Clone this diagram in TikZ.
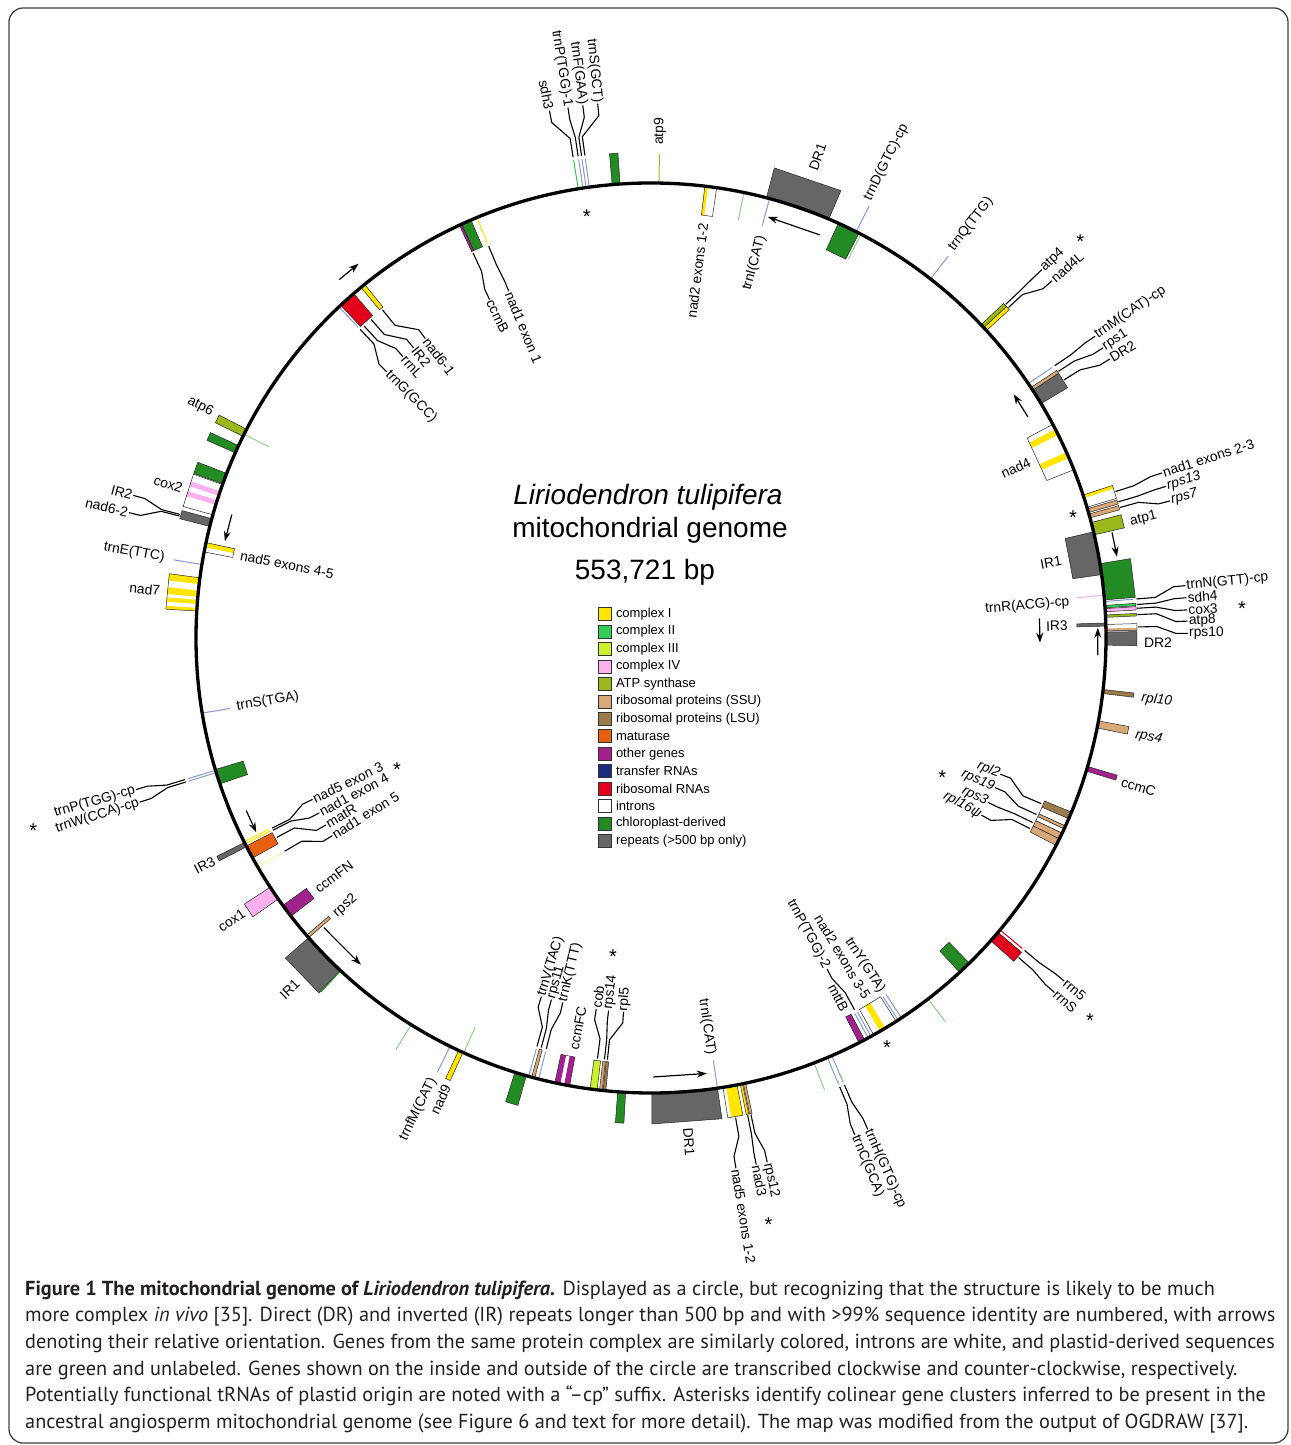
\documentclass[tikz,border=0pt]{standalone}
\usepackage{fontspec}
\setmainfont{Liberation Sans}
\newfontfamily\capfont{PT Sans}
\usetikzlibrary{arrows.meta,positioning}

\definecolor{cI}{HTML}{FFE500}
\definecolor{cII}{HTML}{33CC55}
\definecolor{cIII}{HTML}{CBF02D}
\definecolor{cIV}{HTML}{FBB0F0}
\definecolor{cATP}{HTML}{9AB81A}
\definecolor{cSSU}{HTML}{D9A877}
\definecolor{cLSU}{HTML}{9B7A4C}
\definecolor{cMat}{HTML}{E6600F}
\definecolor{cOth}{HTML}{A2218E}
\definecolor{cTRNA}{HTML}{1C2C7E}
\definecolor{cRRNA}{HTML}{E2001A}
\definecolor{cCP}{HTML}{238B23}
\definecolor{cRep}{HTML}{666666}
\definecolor{trnaln}{HTML}{8A98D0}
\definecolor{cpln}{HTML}{90CC90}
\definecolor{capgray}{HTML}{231F20}

\tikzset{
  gbox/.style={draw=black!85, line width=0.5pt},
  tline/.style={line width=1pt},
  leader/.style={line width=1.1pt, line join=round},
  reparr/.style={line width=1.2pt, -{Stealth[length=10pt, width=7pt]}},
  lbl/.style={font=\fontsize{13.8}{15}\selectfont, inner sep=1pt},
  astk/.style={font=\fontsize{20}{20}\selectfont, inner sep=0pt, yshift=-4pt},
  olab/.code={\pgfmathtruncatemacro\lside{cos(#1)>=0}%
    \ifnum\lside=1 \tikzset{anchor=west, rotate=#1}\else\tikzset{anchor=east, rotate=#1-180}\fi},
  ilab/.code={\pgfmathtruncatemacro\lside{cos(#1)>=0}%
    \ifnum\lside=1 \tikzset{anchor=east, rotate=#1}\else\tikzset{anchor=west, rotate=#1+180}\fi},
  legbox/.style={draw=black!80, line width=0.6pt, minimum size=13pt, inner sep=0pt},
  legtxt/.style={font=\fontsize{13}{15}\selectfont, inner sep=1pt},
  captxt/.style={font=\capfont\fontsize{20.3}{24}\selectfont, text=capgray, inner sep=0pt, anchor=base west},
}

% ring sector: from angle, to angle, inner r, outer r, fill
\newcommand\gbx[5]{\filldraw[gbox, fill=#5] (#1:#3) -- (#1:#4) -- (#2:#4) -- (#2:#3) -- cycle;}
\newcommand\band[5]{\fill[#5] (#1:#3) -- (#1:#4) -- (#2:#4) -- (#2:#3) -- cycle;}
\newcommand\gedge[4]{\draw[gbox] (#1:#3) -- (#1:#4) -- (#2:#4) -- (#2:#3) -- cycle;}

\begin{document}
\begin{tikzpicture}[x=1pt, y=1pt]
  \useasboundingbox (-651,638) rectangle (639,-807);
  \draw[black!75, line width=1.3pt, rounded corners=14pt] (-642,630) rectangle (637,-805);

  % genes outside the circle
  \foreach \a/\b/\c in {93.9/94.9/cCP, 67.0/75.3/cRep, 43.0/43.5/cATP, 42.5/43.0/cI,
      31.0/33.0/cRep, 33.0/33.4/cSSU, 16.0/16.5/cSSU, 15.3/15.8/cSSU, 13.1/14.7/cATP,
      4.8/9.4/cCP, 3.8/4.1/cII, 3.3/3.7/cIV, 2.6/2.9/cATP, -0.9/0.75/cRep,
      -7.0/-6.5/cLSU, -11.4/-10.5/cSSU, -17.0/-16.4/cOth, -41.7/-40.3/cRRNA,
      -89.9/-81.6/cRep, -78.7/-78.4/cI, -78.3/-78.0/cSSU, -94.2/-93.2/cCP,
      -107.4/-105.9/cCP, -115.0/-114.4/cI, -138.8/-133.1/cRep, -146.8/-145.0/cIV,
      -153.3/-152.7/cRep, 164.8/165.8/cRep, 158.8/160.2/cCP, 155.0/156.0/cCP,
      152.7/153.7/cATP}
    {\gbx{\a}{\b}{455}{486}{\c}}

  % genes inside the circle
  \foreach \a/\b/\c in {62.8/65.7/cCP, 8.0/13.5/cRep, 1.5/1.9/cRep,
      -23.4/-22.5/cLSU, -24.4/-23.4/white, -24.8/-24.4/cSSU, -25.4/-24.8/white,
      -26.2/-25.4/cSSU, -27.1/-26.2/cSSU, -47.3/-45.6/cCP, -62.8/-62.0/cOth,
      -97.7/-96.8/cIII, -96.5/-96.15/cSSU, -96.05/-95.7/cLSU, -105.2/-104.8/cSSU,
      -139.2/-138.8/cSSU, -144.0/-142.3/cOth, -152.8/-151.1/cMat, -163.2/-161.3/cCP,
      129.0/129.6/cI, 130.8/133.0/cRRNA, 113.3/114.6/cCP, 114.6/114.9/cOth}
    {\gbx{\a}{\b}{426}{455}{\c}}

  % genes with introns
  \foreach \a/\b/\u/\v in {16.7/18.3/455/486, 0.9/1.7/455/486, -80.9/-79.1/455/486,
      172.4/176.6/455/486, 160.3/164.3/455/486, 81.7/83.2/426/455, 21.7/28.0/426/455,
      -60.7/-57.4/426/455, -102.2/-100.3/426/455, 167.9/169.1/426/455}
    {\band{\a}{\b}{\u}{\v}{white}}
  \foreach \a/\b/\u/\v/\c in {17.9/18.3/455/486/cI, 0.9/1.2/455/486/cSSU,
      -80.5/-79.1/455/486/cI, 172.4/173.2/455/486/cI, 174.0/174.8/455/486/cI,
      175.2/175.7/455/486/cI, 176.2/176.6/455/486/cI, 161.2/161.8/455/486/cIV,
      162.4/163.0/455/486/cIV, 82.8/83.2/426/455/cI, 26.5/27.3/426/455/cI,
      23.3/24.1/426/455/cI, -59.8/-59.0/426/455/cI, -102.2/-101.5/426/455/cOth,
      -101.0/-100.3/426/455/cOth, 167.9/168.5/426/455/cI}
    {\band{\a}{\b}{\u}{\v}{\c}}
  \foreach \a/\b/\u/\v in {16.7/18.3/455/486, 0.9/1.7/455/486, -80.9/-79.1/455/486,
      172.4/176.6/455/486, 160.3/164.3/455/486, 81.7/83.2/426/455, 21.7/28.0/426/455,
      -60.7/-57.4/426/455, -102.2/-100.3/426/455, 167.9/169.1/426/455}
    {\gedge{\a}{\b}{\u}{\v}}

  % tRNAs and short pieces
  \foreach \a/\c in {99.2/cII, 98.6/trnaln, 98.2/trnaln, 97.8/trnaln, 89.0/cATP, 63.2/trnaln,
      52.1/trnaln, 34.0/trnaln, 4.6/trnaln, -39.9/cRRNA, -52.5/cpln, -66.6/trnaln,
      -67.2/trnaln, -69.0/cpln, -116.2/trnaln, -121.8/cpln, -133.0/cCP, -162.8/trnaln,
      -163.1/trnaln, 170.7/trnaln}
    \draw[tline, \c] (\a:456) -- (\a:484);
  \foreach \a/\c in {78.2/cpln, 74.9/trnaln, 62.5/cpln, 5.4/cIV, -56.6/trnaln, -57.1/trnaln,
      -61.1/trnaln, -61.5/trnaln, -81.6/trnaln, -104.3/trnaln, -105.6/trnaln, -114.3/cpln,
      -149.8/cI!40, -153.1/cI, -153.4/cI, -170.5/trnaln, 153.4/cpln, 133.3/trnaln, 112.5/cI}
    \draw[tline, \c] (\a:427) -- (\a:454);

  \draw[line width=3.3pt] (0,0) circle (455);

  % repeat orientation
  \foreach \a/\b/\r in {67.3/74.5/437, 30.4/33.9/437, 12.9/9.9/473, 2.9/-0.7/389,
      -2.2/1.3/447, -89.7/-82.7/439, -138.5/-131.6/437, -156.9/-153.8/440,
      163.6/167.2/437, 131.0/128.0/475}
    \draw[reparr] (\a:\r) -- (\b:\r);

  \foreach \a/\r [count=\i] in {98.6/430, 43.0/587, 16.4/440, 3.2/592, -24.9/321, -40.8/580,
      -59.8/469, -78.6/594, -96.9/317, -153.4/284, -163.0/646}
    \node[astk] (star\i) at (\a:\r) {*};

  % labels straight out from their gene
  \foreach \a/\r/\n/\t in {89.0/492/atpI/atp9, 70.9/494/drAa/DR1, 63.7/488/trnDc/trnD(GTC)-cp,
      52.3/490/trnQa/trnQ(TTG), 13.6/492/atpA/atp1, -0.5/492/drBb/DR2,
      -7.0/493/rplJ/{\itshape rpl10}, -11.3/493/rpsD/{\itshape rps4}, -17.0/491/ccmC/ccmC,
      -85.7/490/drAb/DR1, -114.5/491/nadI/nad9, -116.3/491/trnfM/trnfM(CAT),
      -135.8/492/irAb/IR1, -146.0/490/coxA/cox1, -153.0/489/irCb/IR3, 174.5/492/nadG/nad7,
      170.6/492/trnEa/trnE(TTC), 162.3/491/coxB/cox2, 152.8/492/atpF/atp6}
    \node[lbl, olab=\a] (\n) at (\a:\r) {\t};
  \foreach \a/\r/\n/\t in {82.8/419/nadBa/nad2 exons 1-2, 74.6/418/trnIa/trnI(CAT),
      25.0/419/nadD/nad4, 10.7/419/irAa/IR1, 4.9/421/trnRc/trnR(ACG)-cp, 1.7/418/irCa/IR3,
      -56.8/423/trnYa/trnY(GTA), -59.0/421/nadBb/nad2 exons 3-5, -62.5/421/mttB/mttB,
      -81.8/422/trnIb/trnI(CAT), -100.6/420/ccmFC/ccmFC, -138.8/421/rpsB/rps2,
      -143.0/420/ccmFN/ccmFN, -170.6/421/trnSb/trnS(TGA), 168.6/420/nadEc/nad5 exons 4-5}
    \node[lbl, ilab=\a] (\n) at (\a:\r) {\t};

  % labels with leaders
  \foreach \g/\l/\n/\t in {99.2/100.9/sdhC/sdh3, 98.6/98.9/trnPa/trnP(TGG)-1,
      98.2/97.3/trnFa/trnF(GAA), 97.8/95.7/trnSa/trnS(GCT),
      43.25/43.3/atpD/atp4, 42.75/41.7/nadDL/nad4L,
      34.0/34.2/trnMc/trnM(CAT)-cp, 33.2/32.7/rpsA/rps1, 32.0/31.3/drBa/DR2,
      17.5/17.9/nadAb/nad1 exons 2-3, 16.25/16.4/rpsM/{\itshape rps13}, 15.55/14.8/rpsG/{\itshape rps7},
      4.6/5.6/trnNc/trnN(GTT)-cp, 3.95/4.3/sdhD/sdh4, 3.5/3.0/coxC/cox3, 2.75/1.8/atpH/atp8,
      1.3/0.5/rpsJ/rps10, -39.9/-39.7/rrnF/rrn5, -41.0/-41.3/rrnS/rrnS,
      -66.6/-66.2/trnHc/trnH(GTG)-cp, -67.2/-67.7/trnCa/trnC(GCA),
      -80.0/-80.9/nadEa/nad5 exons 1-2, -78.55/-78.7/nadC/nad3, -78.15/-77.5/rpsL/rps12,
      -163.1/-163.6/trnPc/trnP(TGG)-cp, -162.8/-162.2/trnWc/trnW(CCA)-cp,
      165.3/164.6/irBa/IR2, 165.5/166.5/nadSixB/nad6-2}{
    \node[lbl, olab=\l] (\n) at (\l:537) {\t};
    \draw[leader] (\g:487) -- (\g:506) -- (\l:525) -- (\n);
  }
  \foreach \g/\l/\n/\t in {-23.0/-21.3/rplB/{\itshape rpl2}, -24.6/-23.5/rpsS/{\itshape rps19},
      -25.8/-26.0/rpsC/{\itshape rps3}, -26.7/-28.2/rplP/{\itshape rpl16ψ},
      -61.3/-62.0/trnPb/trnP(TGG)-2,
      -97.25/-98.4/cobA/cob, -96.3/-96.5/rpsN/rps14, -95.9/-94.2/rplE/rpl5,
      -105.6/-107.0/trnVa/trnV(TAC), -105.0/-105.4/rpsK/rps11, -104.3/-103.6/trnKa/trnK(TTT),
      -153.35/-154.5/nadEb/nad5 exon 3, -153.05/-152.2/nadAc/nad1 exon 4,
      -151.95/-150.1/matR/matR, -149.8/-148.2/nadAd/nad1 exon 5,
      129.3/127.0/nadSixA/nad6-1, 131.3/129.3/irBb/IR2, 132.6/131.4/rrnL/rrnL,
      133.3/134.8/trnGa/trnG(GCC), 114.8/115.5/ccmB/ccmB, 112.5/112.3/nadAa/nad1 exon 1}{
    \node[lbl, ilab=\l] (\n) at (\l:375) {\t};
    \draw[leader] (\g:424) -- (\g:404) -- (\l:386) -- (\n);
  }

  % centre
  \node[font=\fontsize{28}{32}\selectfont\itshape, anchor=base] (ttlA) at (-3,133) {Liriodendron tulipifera};
  \node[font=\fontsize{28}{32}\selectfont, anchor=base] (ttlB) at (-1,100) {mitochondrial genome};
  \node[font=\fontsize{28}{32}\selectfont, anchor=base] (ttlC) at (-6,58) {553,721 bp};

  \foreach \c/\t [count=\i from 0] in {cI/complex I, cII/complex II, cIII/complex III,
      cIV/complex IV, cATP/ATP synthase, cSSU/ribosomal proteins (SSU),
      cLSU/ribosomal proteins (LSU), cMat/maturase, cOth/other genes, cTRNA/transfer RNAs,
      cRRNA/ribosomal RNAs, white/introns, cCP/chloroplast-derived,
      cRep/repeats (>500 bp only)}{
    \node[legbox, fill=\c] (key\i) at (-46, 24-17.46*\i) {};
    \node[legtxt, right=3pt of key\i] (keytxt\i) {\t};
  }

  \node[captxt] (capA) at (-626,-657) {\textbf{Figure 1 The mitochondrial genome of \textit{Liriodendron tulipifera.}} Displayed as a circle, but recognizing that the structure is likely to be much};
  \node[captxt] (capB) at (-626,-683.7) {more complex \textit{in vivo} [35]. Direct (DR) and inverted (IR) repeats longer than 500 bp and with >99\% sequence identity are numbered, with arrows};
  \node[captxt] (capC) at (-626,-710.4) {denoting their relative orientation. Genes from the same protein complex are similarly colored, introns are white, and plastid-derived sequences};
  \node[captxt] (capD) at (-626,-737.1) {are green and unlabeled. Genes shown on the inside and outside of the circle are transcribed clockwise and counter-clockwise, respectively.};
  \node[captxt] (capE) at (-626,-763.8) {Potentially functional tRNAs of plastid origin are noted with a “–cp” suffix. Asterisks identify colinear gene clusters inferred to be present in the};
  \node[captxt] (capF) at (-626,-790.5) {ancestral angiosperm mitochondrial genome (see Figure 6 and text for more detail). The map was modified from the output of OGDRAW [37].};
\end{tikzpicture}
\end{document}
